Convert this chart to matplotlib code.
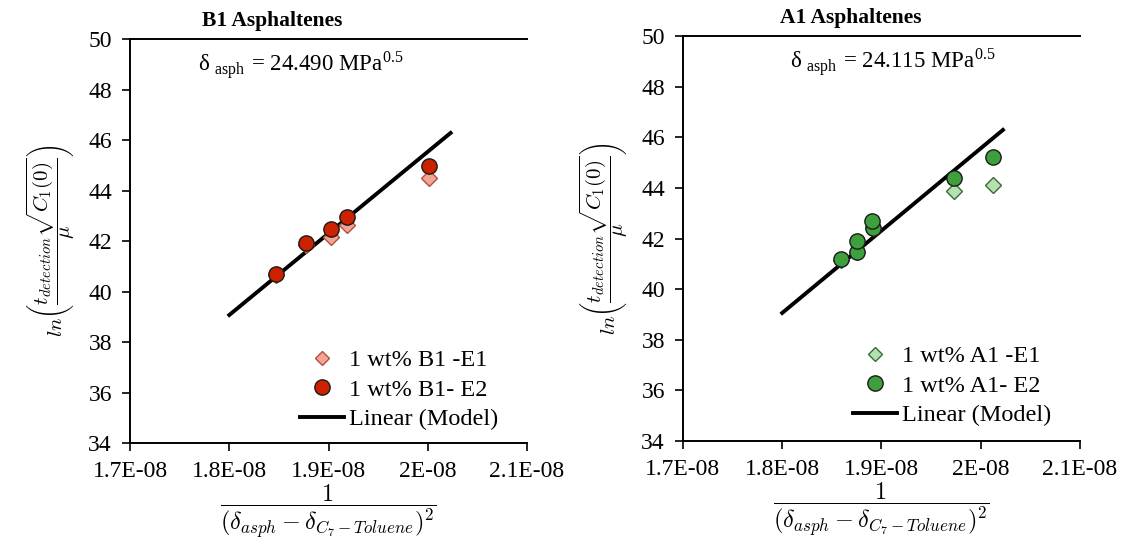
import matplotlib
matplotlib.use("Agg")
import matplotlib.pyplot as plt
from matplotlib.lines import Line2D

plt.rcParams['font.family'] = ['Liberation Serif', 'DejaVu Serif']
plt.rcParams['mathtext.fontset'] = 'cm'

# B1 asphaltenes
b1_e1_x = [1.847e-8, 1.8769e-8, 1.9024e-8, 1.9182e-8, 2.0014e-8]
b1_e1_y = [40.65, 41.85, 42.17, 42.63, 44.48]
b1_e2_x = [1.847e-8, 1.8769e-8, 1.9024e-8, 1.9182e-8, 2.0014e-8]
b1_e2_y = [40.69, 41.91, 42.46, 42.94, 44.98]
b1_model_x = [1.8e-8, 2.023e-8]
b1_model_y = [39.07, 46.28]
b1_delta = "24.490"

# A1 asphaltenes
a1_e1_x = [1.8589e-8, 1.875e-8, 1.8917e-8, 1.973e-8, 2.012e-8]
a1_e1_y = [41.15, 41.45, 42.40, 43.89, 44.11]
a1_e2_x = [1.8589e-8, 1.875e-8, 1.875e-8, 1.8917e-8, 1.8901e-8, 1.973e-8, 2.012e-8]
a1_e2_y = [41.19, 41.48, 41.90, 42.43, 42.70, 44.38, 45.23]
a1_model_x = [1.8e-8, 2.0224e-8]
a1_model_y = [39.06, 46.29]
a1_delta = "24.115"

x_ticks = [1.7e-8, 1.8e-8, 1.9e-8, 2.0e-8, 2.1e-8]
x_tick_labels = ["1.7E-08", "1.8E-08", "1.9E-08", "2E-08", "2.1E-08"]
y_ticks = [34, 36, 38, 40, 42, 44, 46, 48, 50]

fig = plt.figure(figsize=(11.22, 5.41), dpi=100)

panels = [
    dict(rect=[0.1159, 0.1811, 0.3538, 0.7468], name="B1", delta=b1_delta,
         e1=(b1_e1_x, b1_e1_y), e2=(b1_e2_x, b1_e2_y), model=(b1_model_x, b1_model_y),
         circ="#CC2200", diam="#F2A594", diam_edge="#B0503C",
         title_x=0.358, delta_x=0.43, leg_y=-0.01),
    dict(rect=[0.6087, 0.1848, 0.3538, 0.7486], name="A1", delta=a1_delta,
         e1=(a1_e1_x, a1_e1_y), e2=(a1_e2_x, a1_e2_y), model=(a1_model_x, a1_model_y),
         circ="#3DA03D", diam="#B5E0B0", diam_edge="#3A6A3A",
         title_x=0.423, delta_x=0.53, leg_y=-0.005),
]

for p in panels:
    ax = fig.add_axes(p["rect"])
    ax.plot(p["model"][0], p["model"][1], color="black", lw=2.8, zorder=2,
            label="Linear (Model)")
    ax.plot(p["e1"][0], p["e1"][1], linestyle="none", marker="D", markersize=8.5,
            markerfacecolor=p["diam"], markeredgecolor=p["diam_edge"], markeredgewidth=1.0,
            zorder=3, label=f"1 wt% {p['name']} -E1")
    ax.plot(p["e2"][0], p["e2"][1], linestyle="none", marker="o", markersize=11,
            markerfacecolor=p["circ"], markeredgecolor="#1a1a1a", markeredgewidth=1.0,
            zorder=4, label=f"1 wt% {p['name']}- E2")

    ax.set_xlim(1.7e-8, 2.1e-8)
    ax.set_ylim(34, 50)
    ax.set_xticks(x_ticks)
    ax.set_xticklabels(x_tick_labels)
    ax.set_yticks(y_ticks)
    ax.tick_params(direction="out", length=6, width=1.2, labelsize=17, pad=7)
    ax.spines["right"].set_visible(False)
    for s in ("left", "bottom", "top"):
        ax.spines[s].set_linewidth(1.4)

    ax.text(p["title_x"], 1.02, f"{p['name']} Asphaltenes", transform=ax.transAxes,
            ha="center", va="bottom", fontsize=15.5, fontweight="bold")
    ax.text(p["delta_x"], 0.935,
            "δ$_{\\mathregular{\\ asph}}$ = " + p["delta"] + " MPa$^{\\mathregular{0.5}}$",
            transform=ax.transAxes, ha="center", va="center", fontsize=16.5)

    ax.set_ylabel(r"$ln\left(\dfrac{t_{detection}\sqrt{C_1(0)}}{\mu}\right)$",
                  fontsize=15, labelpad=8)
    ax.set_xlabel(r"$\dfrac{1}{(\delta_{asph}-\delta_{C_7-Toluene})^2}$",
                  fontsize=17.5, labelpad=0)

    handles = [
        Line2D([], [], linestyle="none", marker="D", markersize=7,
               markerfacecolor=p["diam"], markeredgecolor=p["diam_edge"]),
        Line2D([], [], linestyle="none", marker="o", markersize=11,
               markerfacecolor=p["circ"], markeredgecolor="#1a1a1a"),
        Line2D([], [], color="black", lw=2.8),
    ]
    labels = [f"1 wt% {p['name']} -E1", f"1 wt% {p['name']}- E2", "Linear (Model)"]
    ax.legend(handles, labels, loc="lower right", bbox_to_anchor=(0.97, p["leg_y"]),
              frameon=False, fontsize=17.5, handlelength=1.8, handletextpad=0.2,
              labelspacing=0.3, borderpad=0.2)

fig.savefig("out.png", dpi=100)
